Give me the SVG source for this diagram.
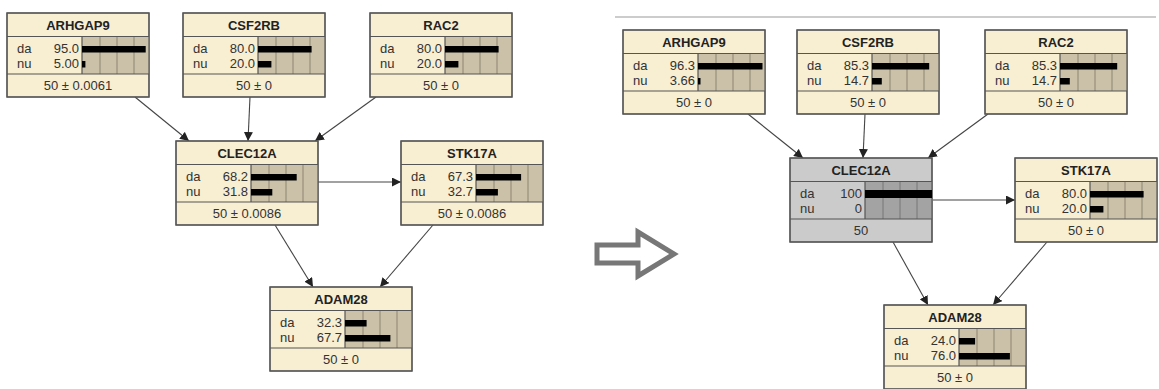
<svg xmlns="http://www.w3.org/2000/svg" width="1159" height="389" viewBox="0 0 1159 389">
<style>
.box{fill:#F8EED2;stroke:#555;stroke-width:1.2}
.gbox{fill:#CBCBCB;stroke:#555;stroke-width:1.2}
.bbg{fill:#CBC1A8}
.gbbg{fill:#A3A3A3}
.sep{stroke:#555;stroke-width:1.2}
.grid{stroke:#8E8570;stroke-width:1}
.ggrid{stroke:#777;stroke-width:1}
.bar{fill:#000}
.t{font-family:"Liberation Sans",Arial,sans-serif;font-size:13px;font-weight:bold;fill:#222;text-anchor:middle}
.l{font-family:"Liberation Sans",Arial,sans-serif;font-size:13px;fill:#333}
.n{font-family:"Liberation Sans",Arial,sans-serif;font-size:13px;fill:#333;text-anchor:end}
.f{font-family:"Liberation Sans",Arial,sans-serif;font-size:13px;fill:#333;text-anchor:middle}
.edge{stroke:#444;stroke-width:1.1;fill:none;marker-end:url(#ah)}
</style>
<defs>
<marker id="ah" viewBox="0 0 10 10" refX="10" refY="5" markerWidth="9" markerHeight="9" markerUnits="userSpaceOnUse" orient="auto">
<path d="M0,0 L10,5 L0,10 z" fill="#222"/>
</marker>
<g id="frame">
<rect class="box" x="0" y="0" width="142" height="84"/>
<rect class="bbg" x="75" y="23.5" width="67" height="37.5"/>
<line class="grid" x1="93" y1="23.5" x2="93" y2="61"/>
<line class="grid" x1="110" y1="23.5" x2="110" y2="61"/>
<line class="grid" x1="127" y1="23.5" x2="127" y2="61"/>
<line class="sep" x1="75" y1="23.5" x2="75" y2="61"/>
<line class="sep" x1="0" y1="23.5" x2="142" y2="23.5"/>
<line class="sep" x1="0" y1="61" x2="142" y2="61"/>
<rect x="0" y="0" width="142" height="84" fill="none" stroke="#555" stroke-width="1.2"/>
<text class="l" x="10" y="40">da</text>
<text class="l" x="10" y="55">nu</text>
</g>
<g id="gframe">
<rect class="gbox" x="0" y="0" width="142" height="84"/>
<rect class="gbbg" x="75" y="23.5" width="67" height="37.5"/>
<line class="ggrid" x1="93" y1="23.5" x2="93" y2="61"/>
<line class="ggrid" x1="110" y1="23.5" x2="110" y2="61"/>
<line class="ggrid" x1="127" y1="23.5" x2="127" y2="61"/>
<line class="sep" x1="75" y1="23.5" x2="75" y2="61"/>
<line class="sep" x1="0" y1="23.5" x2="142" y2="23.5"/>
<line class="sep" x1="0" y1="61" x2="142" y2="61"/>
<rect x="0" y="0" width="142" height="84" fill="none" stroke="#555" stroke-width="1.2"/>
<text class="l" x="10" y="40">da</text>
<text class="l" x="10" y="55">nu</text>
</g>
</defs>

<rect x="0" y="0" width="1159" height="389" fill="#fff"/>

<g id="connectors">
<line class="edge" x1="135" y1="97" x2="189" y2="141"/>
<line class="edge" x1="250" y1="97" x2="248" y2="141"/>
<line class="edge" x1="376" y1="97" x2="315" y2="141"/>
<line class="edge" x1="318" y1="182" x2="401" y2="182"/>
<line class="edge" x1="275" y1="225" x2="313" y2="287"/>
<line class="edge" x1="433" y1="225" x2="380" y2="287"/>
<line class="edge" x1="748" y1="114" x2="803" y2="158"/>
<line class="edge" x1="865" y1="114" x2="863" y2="158"/>
<line class="edge" x1="988" y1="114" x2="928" y2="158"/>
<line class="edge" x1="933" y1="200" x2="1015" y2="200"/>
<line class="edge" x1="893" y1="242" x2="928" y2="305"/>
<line class="edge" x1="1047" y1="242" x2="993" y2="305"/>
</g>

<line x1="615" y1="17" x2="1156" y2="17" stroke="#9a9a9a" stroke-width="1.2"/>

<g id="transition-arrow">
<polygon points="597,245 638,245 638,232 674,254 638,276 638,263 597,263" fill="#fff" stroke="#777" stroke-width="5" stroke-linejoin="miter"/>
</g>

<g id="L_ARHGAP9" transform="translate(7,13)">
<use href="#frame"/>
<rect class="bar" x="75" y="33" width="63.7" height="6.5"/>
<rect class="bar" x="75" y="48" width="3.4" height="6.5"/>
<text class="t" x="71" y="17">ARHGAP9</text>
<text class="n" x="72" y="40">95.0</text>
<text class="n" x="72" y="55">5.00</text>
<text class="f" x="71" y="77">50 ± 0.0061</text>
</g>
<g id="L_CSF2RB" transform="translate(183,13)">
<use href="#frame"/>
<rect class="bar" x="75" y="33" width="53.6" height="6.5"/>
<rect class="bar" x="75" y="48" width="13.4" height="6.5"/>
<text class="t" x="71" y="17">CSF2RB</text>
<text class="n" x="72" y="40">80.0</text>
<text class="n" x="72" y="55">20.0</text>
<text class="f" x="71" y="77">50 ± 0</text>
</g>
<g id="L_RAC2" transform="translate(370,13)">
<use href="#frame"/>
<rect class="bar" x="75" y="33" width="53.6" height="6.5"/>
<rect class="bar" x="75" y="48" width="13.4" height="6.5"/>
<text class="t" x="71" y="17">RAC2</text>
<text class="n" x="72" y="40">80.0</text>
<text class="n" x="72" y="55">20.0</text>
<text class="f" x="71" y="77">50 ± 0</text>
</g>
<g id="L_CLEC12A" transform="translate(176,141)">
<use href="#frame"/>
<rect class="bar" x="75" y="33" width="45.7" height="6.5"/>
<rect class="bar" x="75" y="48" width="21.3" height="6.5"/>
<text class="t" x="71" y="17">CLEC12A</text>
<text class="n" x="72" y="40">68.2</text>
<text class="n" x="72" y="55">31.8</text>
<text class="f" x="71" y="77">50 ± 0.0086</text>
</g>
<g id="L_STK17A" transform="translate(401,141)">
<use href="#frame"/>
<rect class="bar" x="75" y="33" width="45.1" height="6.5"/>
<rect class="bar" x="75" y="48" width="21.9" height="6.5"/>
<text class="t" x="71" y="17">STK17A</text>
<text class="n" x="72" y="40">67.3</text>
<text class="n" x="72" y="55">32.7</text>
<text class="f" x="71" y="77">50 ± 0.0086</text>
</g>
<g id="L_ADAM28" transform="translate(270,287)">
<use href="#frame"/>
<rect class="bar" x="75" y="33" width="21.6" height="6.5"/>
<rect class="bar" x="75" y="48" width="45.4" height="6.5"/>
<text class="t" x="71" y="17">ADAM28</text>
<text class="n" x="72" y="40">32.3</text>
<text class="n" x="72" y="55">67.7</text>
<text class="f" x="71" y="77">50 ± 0</text>
</g>

<g id="R_ARHGAP9" transform="translate(623,30)">
<use href="#frame"/>
<rect class="bar" x="75" y="33" width="64.5" height="6.5"/>
<rect class="bar" x="75" y="48" width="2.5" height="6.5"/>
<text class="t" x="71" y="17">ARHGAP9</text>
<text class="n" x="72" y="40">96.3</text>
<text class="n" x="72" y="55">3.66</text>
<text class="f" x="71" y="77">50 ± 0</text>
</g>
<g id="R_CSF2RB" transform="translate(797,30)">
<use href="#frame"/>
<rect class="bar" x="75" y="33" width="57.2" height="6.5"/>
<rect class="bar" x="75" y="48" width="9.8" height="6.5"/>
<text class="t" x="71" y="17">CSF2RB</text>
<text class="n" x="72" y="40">85.3</text>
<text class="n" x="72" y="55">14.7</text>
<text class="f" x="71" y="77">50 ± 0</text>
</g>
<g id="R_RAC2" transform="translate(985,30)">
<use href="#frame"/>
<rect class="bar" x="75" y="33" width="57.2" height="6.5"/>
<rect class="bar" x="75" y="48" width="9.8" height="6.5"/>
<text class="t" x="71" y="17">RAC2</text>
<text class="n" x="72" y="40">85.3</text>
<text class="n" x="72" y="55">14.7</text>
<text class="f" x="71" y="77">50 ± 0</text>
</g>
<g id="R_CLEC12A" transform="translate(790,158)">
<use href="#gframe"/>
<rect class="bar" x="75" y="32" width="67" height="8"/>
<text class="t" x="71" y="17">CLEC12A</text>
<text class="n" x="72" y="40">100</text>
<text class="n" x="72" y="55">0</text>
<text class="f" x="71" y="77">50</text>
</g>
<g id="R_STK17A" transform="translate(1015,158)">
<use href="#frame"/>
<rect class="bar" x="75" y="33" width="53.6" height="6.5"/>
<rect class="bar" x="75" y="48" width="13.4" height="6.5"/>
<text class="t" x="71" y="17">STK17A</text>
<text class="n" x="72" y="40">80.0</text>
<text class="n" x="72" y="55">20.0</text>
<text class="f" x="71" y="77">50 ± 0</text>
</g>
<g id="R_ADAM28" transform="translate(884,305)">
<use href="#frame"/>
<rect class="bar" x="75" y="33" width="16.1" height="6.5"/>
<rect class="bar" x="75" y="48" width="50.9" height="6.5"/>
<text class="t" x="71" y="17">ADAM28</text>
<text class="n" x="72" y="40">24.0</text>
<text class="n" x="72" y="55">76.0</text>
<text class="f" x="71" y="77">50 ± 0</text>
</g>
</svg>
